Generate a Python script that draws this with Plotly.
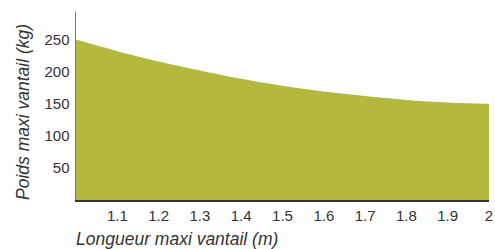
import plotly.graph_objects as go

longueur = [1.0, 1.1, 1.2, 1.3, 1.4, 1.5, 1.6, 1.7, 1.8, 1.9, 2.0]
poids = [250, 232, 216, 202, 189, 178, 169, 162, 156, 152, 150]
x_tickvals = [1.1, 1.2, 1.3, 1.4, 1.5, 1.6, 1.7, 1.8, 1.9, 2.0]
x_ticktext = ["1.1", "1.2", "1.3", "1.4", "1.5", "1.6", "1.7", "1.8", "1.9", "2"]
y_tickvals = [50, 100, 150, 200, 250]

fig = go.Figure()
fig.add_trace(go.Scatter(
    x=longueur, y=poids, mode="lines", fill="tozeroy",
    line=dict(color="#b4b93e", width=0, shape="spline", smoothing=0.8),
    fillcolor="#b4b93e", hoverinfo="skip", showlegend=False,
))

font = "Liberation Sans, Arial, Helvetica, sans-serif"
fig.update_layout(
    width=495, height=249,
    margin=dict(l=76, r=6, t=12, b=49),
    paper_bgcolor="white", plot_bgcolor="white",
    font=dict(family=font, size=15, color="#333333"),
    xaxis=dict(range=[1.0, 2.0], tickvals=x_tickvals, ticktext=x_ticktext,
               showgrid=False, zeroline=False, showline=True, automargin=False,
               linecolor="#333333", linewidth=1.5, ticks="", ticklabelstandoff=1,
               tickfont=dict(size=15, color="#333333")),
    yaxis=dict(range=[0, 293], tickvals=y_tickvals, automargin=False,
               showgrid=False, zeroline=False, showline=True,
               linecolor="#777777", linewidth=1.5, ticks="", ticklabelstandoff=2,
               tickfont=dict(size=15, color="#333333")),
    annotations=[
        dict(text="<i>Longueur maxi vantail (m)</i>", xref="paper", yref="paper",
             x=0, xshift=-2, y=-0.205, xanchor="left", yanchor="middle", showarrow=False,
             font=dict(size=17.5, color="#333333")),
        dict(text="<i>Poids maxi vantail (kg)</i>", xref="paper", yref="paper",
             x=-76/413, xshift=23, y=0.5, yshift=-6, xanchor="center", yanchor="middle",
             textangle=-90, showarrow=False,
             font=dict(size=17.5, color="#333333")),
    ],
)

fig.write_html("out.html", config={"displayModeBar": False, "staticPlot": True},
               post_script="document.body.style.margin='0';document.body.style.overflow='hidden';")
